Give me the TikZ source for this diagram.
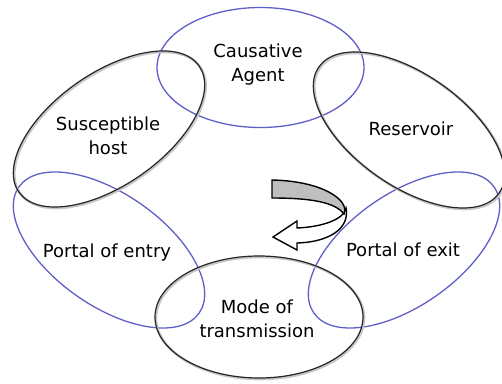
\documentclass[tikz,border=0pt]{standalone}
\usepackage{fontspec}
\setmainfont{DejaVu Sans}
\definecolor{ringblue}{RGB}{95,95,200}
\begin{document}
\begin{tikzpicture}[x=1pt,y=-1pt,
  bl/.style={draw=ringblue, line width=1.3pt},
  bk/.style={draw=black!85, line width=1.2pt},
  shad/.style={draw=black!22, line width=2.6pt},
  lbl/.style={font=\fontsize{18}{24}\selectfont, align=center, inner sep=0pt, text=black},
  arrowline/.style={draw=black, line width=1.4pt, line join=miter}]
\useasboundingbox (0,0) rectangle (502,383);
% blue rings
\draw[bl] (260.5,67.5) ellipse [x radius=103.5pt, y radius=60pt];
\draw[bl, shift={(109,250)}, rotate=-35] (0,0) ellipse [x radius=110pt, y radius=56pt];
\draw[bl, shift={(404,250)}, rotate=35] (0,0) ellipse [x radius=110pt, y radius=56pt];
% black rings with soft shadow
\draw[shad, shift={(110,130)}, rotate=35] (0,0) ellipse [x radius=110pt, y radius=56pt];
\draw[bk, shift={(109,129)}, rotate=35] (0,0) ellipse [x radius=110pt, y radius=56pt];
\draw[shad, shift={(410,131)}, rotate=-35] (0,0) ellipse [x radius=110pt, y radius=56pt];
\draw[bk, shift={(409,130)}, rotate=-35] (0,0) ellipse [x radius=110pt, y radius=56pt];
\draw[shad] (260,318) ellipse [x radius=104pt, y radius=61pt];
\draw[bk] (259,317) ellipse [x radius=104pt, y radius=61pt];
% labels
\node[lbl] (agent) at (258,64.6) {Causative\\Agent};
\node[lbl] (host) at (108,136.2) {Susceptible\\host};
\node[lbl] (reservoir) at (411,129) {Reservoir};
\node[lbl] (entry) at (107,252.2) {Portal of entry};
\node[lbl] (exit) at (403,250.1) {Portal of exit};
\node[lbl] (mode) at (257,319.2) {Mode of\\transmission};
% curved 3D arrow
\filldraw[arrowline, fill=white] (346,208) .. controls (350,228) and (330,242) .. (297,243)
  -- (297,250) -- (273,237) -- (297,221) -- (297,228)
  .. controls (320,227) and (337,221) .. (343,214) -- cycle;
\filldraw[arrowline, fill=black!25] (272,180) .. controls (322,181) and (350,200) .. (344,214)
  .. controls (335,202) and (310,198) .. (272,198) -- cycle;
\end{tikzpicture}
\end{document}
